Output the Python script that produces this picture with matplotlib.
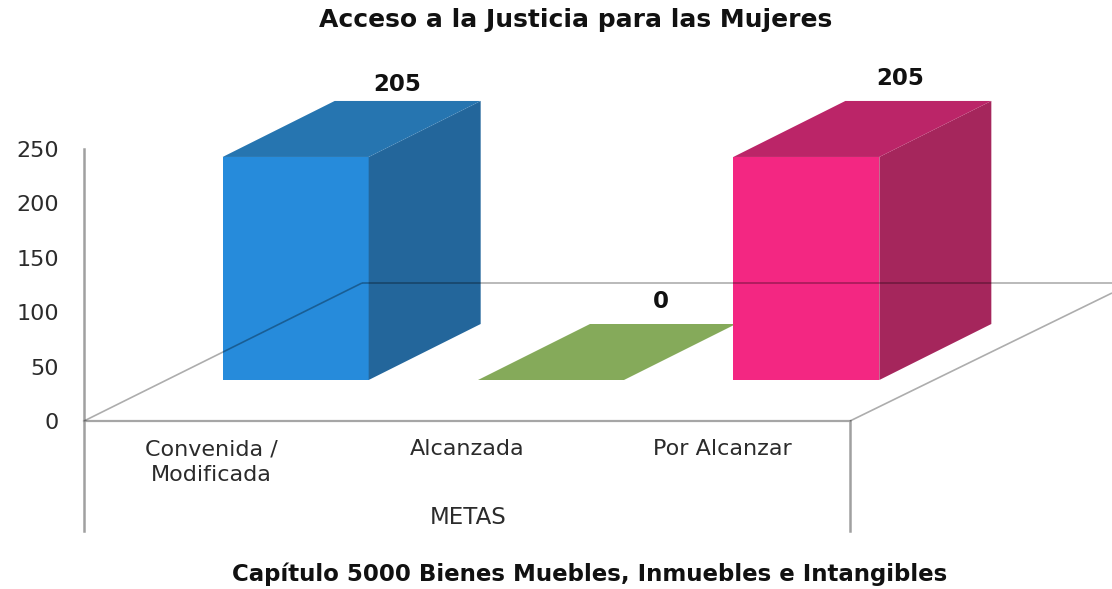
import matplotlib
matplotlib.use("Agg")
import matplotlib.pyplot as plt
from matplotlib.patches import Polygon

categories = ["Convenida /\nModificada", "Alcanzada", "Por Alcanzar"]
values = [205, 0, 205]
front_colors = ["#268BDB", "#85AA5A", "#F32782"]
side_colors = ["#23669B", "#85AA5A", "#A5265C"]
top_colors = ["#2675B0", "#85AA5A", "#BB2568"]
y_ticks = [0, 50, 100, 150, 200, 250]
title = "Acceso a la Justicia para las Mujeres"
axis_title = "METAS"
subtitle = "Capítulo 5000 Bienes Muebles, Inmuebles e Intangibles"
label_offsets = [(102, 5), (110, 11), (94, 11)]

W, H = 1112, 589
fig = plt.figure(figsize=(W / 100, H / 100), dpi=100, facecolor="white")
L, R, T, B = 84, 850, 149, 421
ax = fig.add_axes([L / W, 1 - B / H, (R - L) / W, (B - T) / H])
ax.set_xlim(0, 3)
ax.set_ylim(0, 250)
ax.patch.set_visible(False)
for s in ["top", "right", "left", "bottom"]:
    ax.spines[s].set_visible(False)

ux = (R - L) / 3      # pixels per category
uy = (B - T) / 250    # pixels per value unit
px = lambda p: p / ux
py = lambda p: p / uy

# oblique projection of the 3D chart
depth_x, depth_y = px(278), py(138)      # floor depth
bar_dx, bar_dy = px(112), py(56)         # bar depth
lift = py(41)                            # bar base above the floor's front edge
shift = px(84)                           # front face shift from category centre
half = px(73)                            # half width of the front face

for i, v in enumerate(values):
    c = i + 0.5 + shift
    x0, x1 = c - half, c + half
    y0, y1 = lift, lift + v
    ax.add_patch(Polygon([(x0, y0), (x1, y0), (x1, y1), (x0, y1)], fc=front_colors[i], ec="none", zorder=3, clip_on=False))
    ax.add_patch(Polygon([(x1, y0), (x1 + bar_dx, y0 + bar_dy), (x1 + bar_dx, y1 + bar_dy), (x1, y1)], fc=side_colors[i], ec="none", zorder=3, clip_on=False))
    ax.add_patch(Polygon([(x0, y1), (x1, y1), (x1 + bar_dx, y1 + bar_dy), (x0 + bar_dx, y1 + bar_dy)], fc=top_colors[i], ec="none", zorder=3, clip_on=False))
    ox, oy = label_offsets[i]
    ax.annotate(str(v), xy=(c, y1 + bar_dy), xytext=(ox, oy),
                textcoords="offset pixels", ha="center", va="bottom", fontsize=16.5, fontweight="bold",
                color="#111111", zorder=6, annotation_clip=False)

# floor and walls
grid = dict(color="black", alpha=0.32, lw=1.2, zorder=5, clip_on=False, solid_capstyle="butt")
ax.plot([0, depth_x], [0, depth_y], **grid)
ax.plot([depth_x, 3 + px(262)], [depth_y, depth_y], **grid)
ax.plot([3, 3 + px(262)], [0, py(128)], **grid)
ax.plot([0, 3], [0, 0], color="#a6a6a6", lw=1.6, zorder=2, clip_on=False)
ax.plot([0, 0], [py(-110), 250], color="#a0a0a0", lw=1.8, zorder=2, clip_on=False)
ax.plot([3, 3], [py(-110), 0], color="#a0a0a0", lw=1.8, zorder=2, clip_on=False)

ax.set_yticks(y_ticks)
ax.set_yticklabels([str(t) for t in y_ticks], fontsize=16, color="#2b2b2b")
ax.tick_params(axis="y", length=0, pad=18)
ax.set_xticks([i + 0.5 for i in range(len(categories))])
ax.set_xticklabels(categories, fontsize=16, color="#2b2b2b", linespacing=1.35)
ax.tick_params(axis="x", length=0, pad=13)

fig.text(468 / W, 1 - 518 / H, axis_title, ha="center", va="center", fontsize=16.5, color="#2b2b2b")
fig.text(576 / W, 1 - 20 / H, title, ha="center", va="center", fontsize=18, fontweight="bold", color="#111111")
fig.text(590 / W, 1 - 574 / H, subtitle, ha="center", va="center", fontsize=16.5, fontweight="bold", color="#111111")

fig.savefig("out.png", dpi=100, facecolor="white")
